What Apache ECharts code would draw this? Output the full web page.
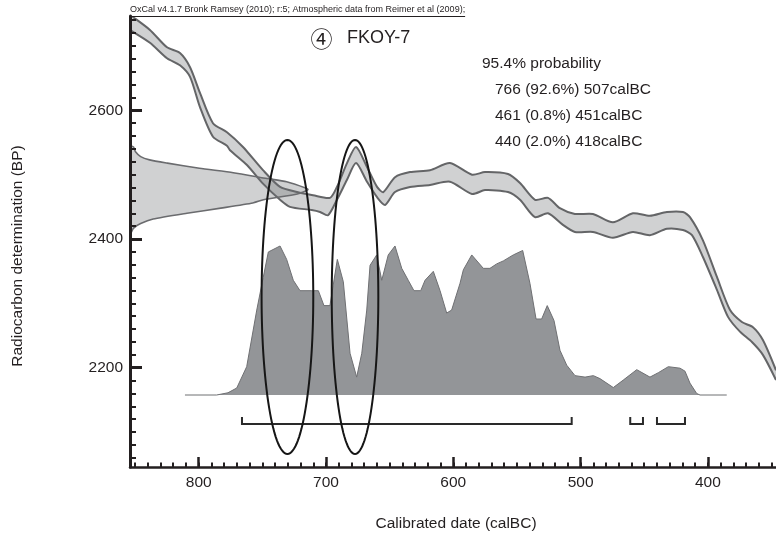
<!DOCTYPE html>
<html>
<head>
<meta charset="utf-8">
<script src="https://cdn.jsdelivr.net/npm/echarts@6/dist/echarts.min.js"></script>
<style>
  html, body { margin: 0; padding: 0; background: #ffffff; }
  #chart { width: 776px; height: 541px; }
</style>
</head>
<body>
<div id="chart"></div>
<script>
// IntCal09 calibration curve envelope, upper and lower edges: [calBC, BP]
const curveUpper = [
  [854.0, 2748], [851.6, 2745], [838.3, 2725], [824.9, 2698], [814.7, 2689], [806.8, 2667],
  [799.0, 2627], [788.8, 2580], [777.8, 2566], [765.2, 2543], [749.5, 2507], [736.1, 2481],
  [722.8, 2473], [710.2, 2468], [696.9, 2464], [691.4, 2481], [683.5, 2518], [676.4, 2543],
  [667.8, 2512], [659.9, 2481], [655.0, 2473], [645.8, 2496], [634.0, 2504], [618.3, 2507],
  [602.6, 2518], [585.3, 2500], [575.1, 2504], [557.0, 2501], [547.6, 2487], [535.8, 2461],
  [525.6, 2464], [516.3, 2448], [504.5, 2439], [490.3, 2439], [474.6, 2426], [458.9, 2440],
  [445.6, 2436], [432.2, 2442], [419.6, 2442], [414.1, 2434], [403.9, 2398], [392.9, 2341],
  [382.7, 2290], [373.3, 2271], [364.6, 2263], [356.8, 2243], [346.5, 2196]
];
const curveLower = [
  [854.0, 2724], [851.6, 2722], [838.3, 2705], [824.9, 2681], [814.7, 2670], [806.8, 2652],
  [799.0, 2605], [788.8, 2559], [777.8, 2545], [775.4, 2538], [762.1, 2515], [749.5, 2486],
  [736.1, 2461], [728.3, 2450], [711.2, 2445], [704.7, 2442], [698.4, 2437], [691.4, 2461],
  [683.5, 2492], [676.4, 2518], [667.8, 2489], [659.9, 2465], [653.6, 2453], [645.8, 2473],
  [634.0, 2481], [618.3, 2484], [602.6, 2489], [585.3, 2470], [575.1, 2476], [557.0, 2473],
  [547.6, 2461], [535.8, 2434], [525.6, 2440], [513.9, 2422], [504.5, 2411], [490.3, 2411],
  [474.6, 2402], [458.9, 2411], [445.6, 2406], [432.2, 2416], [419.6, 2414], [412.5, 2406],
  [403.9, 2372], [392.9, 2321], [384.2, 2279], [374.8, 2256], [365.4, 2240], [356.8, 2220],
  [346.5, 2181]
];

// Radiocarbon measurement distribution: [BP, relative density]
const measurement = [
  [2545, 0], [2543, 0.02], [2536, 0.03], [2528, 0.06], [2523, 0.11], [2518, 0.21],
  [2510, 0.39], [2503, 0.58], [2494, 0.77], [2489, 0.88], [2479, 0.99], [2477, 1.0],
  [2475, 0.99], [2470, 0.94], [2461, 0.75], [2456, 0.69], [2448, 0.51], [2440, 0.32],
  [2431, 0.13], [2424, 0.06], [2417, 0.02], [2406, 0]
];

// Calibrated probability distribution: [calBC, relative probability]
const posterior = [
  [810.8, 0], [785.9, 0], [777.0, 0.015], [770.1, 0.047], [762.3, 0.19], [754.4, 0.57],
  [749.3, 0.79], [745.3, 0.96], [736.1, 1.0], [730.9, 0.91], [725.7, 0.77], [720.4, 0.70],
  [711.2, 0.70], [706.0, 0.70], [701.6, 0.60], [696.9, 0.60], [691.1, 0.91], [686.4, 0.76],
  [681.1, 0.28], [675.9, 0.12], [671.9, 0.28], [668.0, 0.57], [665.4, 0.87], [660.2, 0.94],
  [656.2, 0.77], [651.1, 0.94], [645.8, 1.0], [640.5, 0.85], [635.4, 0.77], [630.9, 0.70],
  [625.6, 0.70], [622.2, 0.77], [615.7, 0.83], [610.4, 0.70], [605.2, 0.55], [601.3, 0.57],
  [594.7, 0.75], [592.1, 0.84], [585.5, 0.94], [576.4, 0.85], [571.2, 0.85], [565.9, 0.88],
  [560.7, 0.90], [552.9, 0.94], [545.5, 0.97], [539.8, 0.75], [535.0, 0.51], [530.6, 0.51],
  [526.2, 0.60], [520.9, 0.50], [516.2, 0.30], [510.9, 0.20], [504.4, 0.13], [496.5, 0.12],
  [490.0, 0.13], [484.8, 0.11], [474.3, 0.05], [466.5, 0.10], [455.9, 0.17], [445.5, 0.12],
  [438.9, 0.15], [431.1, 0.19], [421.9, 0.18], [418.0, 0.16], [414.1, 0.08], [408.8, 0.01],
  [406.2, 0], [385.2, 0]
];

// 95.4% highest probability ranges (calBC)
const rangeFrom = [766, 461, 440];
const rangeTo = [507, 451, 418];

// Highlighted wiggles: [centre calBC, centre BP, half-width in years, half-height in BP]
const wiggles = [
  [730.3, 2310, 20.3, 244],
  [677.2, 2310, 18.3, 244]
];

// Tick labels
const xMajorTicks = [800, 700, 600, 500, 400];
const yMajorTicks = [2200, 2400, 2600];

// Text
const header = 'OxCal v4.1.7 Bronk Ramsey (2010); r:5; Atmospheric data from Reimer et al (2009);';
const sampleMark = '\u2463';
const sampleName = 'FKOY-7';
const rangeTitle = '95.4% probability';
const rangeLines = ['766 (92.6%) 507calBC', '461 (0.8%) 451calBC', '440 (2.0%) 418calBC'];

// minor ticks every 10 years / 20 BP
const xMinorTicks = [];
for (let v = 350; v <= 850; v += 10) xMinorTicks.push(v);
const yMinorTicks = [];
for (let v = 2060; v <= 2740; v += 20) yMinorTicks.push(v);

const FONT = '"Liberation Sans", Arial, Helvetica, sans-serif';
const MARK_FONT = '"Noto Sans CJK JP", "Noto Sans CJK SC", "DejaVu Sans", sans-serif';
const INK = '#231f20';
const X_MIN = 346.5, X_MAX = 853.97;
const Y_MIN = 2045.7, Y_MAX = 2746.6;
const RANGE_LEVEL = -0.195, RANGE_TICK = 0.047;
const BAND_SMOOTH = 0.25;

const chart = echarts.init(document.getElementById('chart'), null, { renderer: 'canvas' });

function bandItem(params, api) {
  if (params.dataIndex !== 0) return;
  const up = curveUpper.map(p => api.coord(p));
  const lo = curveLower.map(p => api.coord(p));
  return {
    type: 'group',
    children: [
      { type: 'polygon', shape: { points: up.concat(lo.slice().reverse()), smooth: BAND_SMOOTH },
        style: { fill: 'rgba(110,112,116,0.32)', stroke: 'none' } },
      { type: 'polyline', shape: { points: up, smooth: BAND_SMOOTH },
        style: { fill: 'none', stroke: '#646567', lineWidth: 2 } },
      { type: 'polyline', shape: { points: lo, smooth: BAND_SMOOTH },
        style: { fill: 'none', stroke: '#646567', lineWidth: 2 } }
    ]
  };
}

function measurementItem(params, api) {
  if (params.dataIndex !== 0) return;
  const pts = measurement.map(p => api.coord([p[1], p[0]]));
  return {
    type: 'group',
    children: [
      { type: 'polygon', shape: { points: pts, smooth: 0.2 },
        style: { fill: 'rgba(110,112,116,0.32)', stroke: 'none' } },
      { type: 'polyline', shape: { points: pts, smooth: 0.2 },
        style: { fill: 'none', stroke: '#6a6b6e', lineWidth: 1.6 } }
    ]
  };
}

function wiggleItem(params, api) {
  const c = api.coord([api.value(0), api.value(1)]);
  const s = api.size([api.value(2), api.value(3)], [api.value(0), api.value(1)]);
  const pts = [];
  for (let i = 0; i < 120; i++) {
    const t = i / 120 * Math.PI * 2;
    pts.push([c[0] + s[0] * Math.cos(t), c[1] + s[1] * Math.sin(t)]);
  }
  return { type: 'polygon', shape: { points: pts },
    style: { fill: 'none', stroke: '#161616', lineWidth: 2 } };
}

function rangeItem(params, api) {
  const a = api.coord([api.value(0), RANGE_LEVEL]);
  const b = api.coord([api.value(1), RANGE_LEVEL]);
  const t = api.coord([api.value(0), RANGE_LEVEL + RANGE_TICK]);
  return { type: 'polyline',
    shape: { points: [[a[0], t[1]], [a[0], a[1]], [b[0], a[1]], [b[0], t[1]]] },
    style: { fill: 'none', stroke: '#2a2a2a', lineWidth: 2 } };
}

// header underline length follows the rendered text width
const measureCtx = document.createElement('canvas').getContext('2d');
measureCtx.font = '9px ' + FONT;
const headerWidth = measureCtx.measureText(header).width;

function txt(x, y, text, size, align, extra, family) {
  return Object.assign({
    type: 'text', x: x, y: y, z: 50, silent: true,
    style: { text: text, fill: INK, font: size + 'px ' + (family || FONT),
      align: align, verticalAlign: 'middle', textAlign: align, textVerticalAlign: 'middle' }
  }, extra || {});
}

const plainNumber = v => String(v);

const option = {
  animation: false,
  backgroundColor: '#ffffff',
  grid: { left: 130, right: 0, top: 16, bottom: 74, containLabel: false, outerBoundsMode: 'none' },
  xAxis: [
    { type: 'value', min: X_MIN, max: X_MAX, inverse: true, position: 'bottom', z: 10,
      axisLine: { show: true, onZero: false, lineStyle: { color: INK, width: 2.5 } },
      axisTick: { show: true, inside: true, length: 4.5, customValues: xMinorTicks,
        lineStyle: { color: INK, width: 2 } },
      axisLabel: { show: false }, splitLine: { show: false } },
    { type: 'value', min: X_MIN, max: X_MAX, inverse: true, position: 'bottom', z: 10,
      axisLine: { show: false, onZero: false },
      axisTick: { show: true, inside: true, length: 10, customValues: xMajorTicks,
        lineStyle: { color: INK, width: 2.5 } },
      axisLabel: { show: true, customValues: xMajorTicks, color: INK, fontSize: 15.5,
        fontFamily: FONT, margin: 8, formatter: plainNumber },
      splitLine: { show: false } },
    { type: 'value', min: 0, max: 3.629, show: false, axisLine: { onZero: false } }
  ],
  yAxis: [
    { type: 'value', min: Y_MIN, max: Y_MAX, position: 'left', z: 10,
      axisLine: { show: true, onZero: false, lineStyle: { color: INK, width: 3 } },
      axisTick: { show: true, inside: true, length: 6, customValues: yMinorTicks,
        lineStyle: { color: INK, width: 2 } },
      axisLabel: { show: false }, splitLine: { show: false } },
    { type: 'value', min: Y_MIN, max: Y_MAX, position: 'left', z: 10,
      axisLine: { show: false, onZero: false },
      axisTick: { show: true, inside: true, length: 12, customValues: yMajorTicks,
        lineStyle: { color: INK, width: 3 } },
      axisLabel: { show: true, customValues: yMajorTicks, color: INK, fontSize: 15.5,
        fontFamily: FONT, margin: 7, formatter: plainNumber },
      splitLine: { show: false } },
    { type: 'value', min: -0.4832, max: 2.5436, show: false, axisLine: { onZero: false } }
  ],
  series: [
    { type: 'custom', name: 'calibration curve', xAxisIndex: 0, yAxisIndex: 0, clip: true,
      renderItem: bandItem, data: [curveUpper[0]], z: 2 },
    { type: 'custom', name: 'measurement', xAxisIndex: 2, yAxisIndex: 0, clip: true,
      renderItem: measurementItem, data: [[measurement[0][1], measurement[0][0]]], z: 3 },
    { type: 'line', name: 'posterior', xAxisIndex: 0, yAxisIndex: 2, data: posterior,
      symbol: 'none', smooth: false, z: 4,
      lineStyle: { color: '#6f7073', width: 1 },
      areaStyle: { color: '#939598', opacity: 1 } },
    { type: 'custom', name: 'ranges', xAxisIndex: 0, yAxisIndex: 2,
      renderItem: rangeItem, data: rangeFrom.map((f, i) => [f, rangeTo[i]]), z: 5 },
    { type: 'custom', name: 'wiggles', xAxisIndex: 0, yAxisIndex: 0,
      renderItem: wiggleItem, data: wiggles, z: 6 }
  ],
  graphic: [
    txt(130, 10, header, 9, 'left'),
    { type: 'line', z: 50, silent: true,
      shape: { x1: 130, y1: 16.5, x2: 130 + headerWidth, y2: 16.5 },
      style: { stroke: INK, lineWidth: 1 } },
    txt(321.5, 39, sampleMark, 22, 'center', null, MARK_FONT),
    txt(347, 38, sampleName, 18, 'left'),
    txt(482, 64, rangeTitle, 15.5, 'left'),
    txt(495, 90, rangeLines[0], 15.5, 'left'),
    txt(495, 116, rangeLines[1], 15.5, 'left'),
    txt(495, 142, rangeLines[2], 15.5, 'left'),
    txt(18, 256, 'Radiocarbon determination (BP)', 15.5, 'center', { rotation: Math.PI / 2 }),
    txt(456, 524, 'Calibrated date (calBC)', 15.5, 'center')
  ]
};

chart.setOption(option);
</script>
</body>
</html>
